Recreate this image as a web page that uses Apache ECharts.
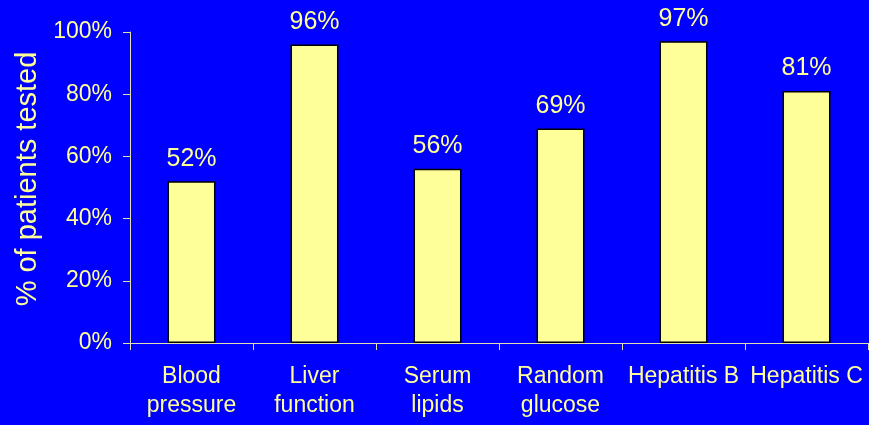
<!DOCTYPE html>
<html>
<head>
<meta charset="utf-8">
<script src="https://cdn.jsdelivr.net/npm/echarts@6/dist/echarts.min.js"></script>
<style>
  html, body { margin: 0; padding: 0; background: #0000FF; }
  #chart { width: 869px; height: 425px; }
</style>
</head>
<body>
<div id="chart"></div>
<script>
// Share of patients who received each test
const categories = ['Blood\npressure', 'Liver\nfunction', 'Serum\nlipids', 'Random\nglucose', 'Hepatitis B', 'Hepatitis C'];
const percentTested = [52, 96, 56, 69, 97, 81];
const yTicks = [0, 20, 40, 60, 80, 100];

const textColor = '#FFFF99';
const axisColor = '#E0E0B0';
const font = 'Liberation Sans, Arial, sans-serif';

const chart = echarts.init(document.getElementById('chart'));
chart.setOption({
  backgroundColor: '#0000FF',
  animation: false,
  grid: { left: 130, right: 1, top: 32, bottom: 82, containLabel: false },
  xAxis: {
    type: 'category',
    data: categories,
    axisLine: { lineStyle: { color: axisColor, width: 1 } },
    axisTick: { show: true, length: 7, alignWithLabel: false, lineStyle: { color: axisColor } },
    axisLabel: {
      color: textColor, fontSize: 23, fontFamily: font,
      lineHeight: 29, margin: 19, interval: 0
    }
  },
  yAxis: {
    type: 'value',
    min: yTicks[0],
    max: yTicks[yTicks.length - 1],
    interval: 20,
    name: '% of patients tested',
    nameLocation: 'middle',
    nameGap: 86,
    nameTextStyle: { color: textColor, fontSize: 29, fontFamily: font, padding: [0, 0, 0, 17] },
    axisLine: { show: true, lineStyle: { color: axisColor, width: 1 } },
    axisTick: { show: true, length: 7, lineStyle: { color: axisColor } },
    splitLine: { show: false },
    axisLabel: {
      color: textColor, fontSize: 23, fontFamily: font, margin: 18,
      formatter: v => v + '%'
    }
  },
  series: [{
    type: 'bar',
    data: percentTested,
    barWidth: '39%',
    itemStyle: { color: '#FFFF99', borderColor: '#000000', borderWidth: 1.5 },
    label: {
      show: true, position: 'top', distance: 10,
      color: textColor, fontSize: 25, fontFamily: font,
      formatter: p => p.value + '%'
    }
  }]
});
</script>
</body>
</html>
